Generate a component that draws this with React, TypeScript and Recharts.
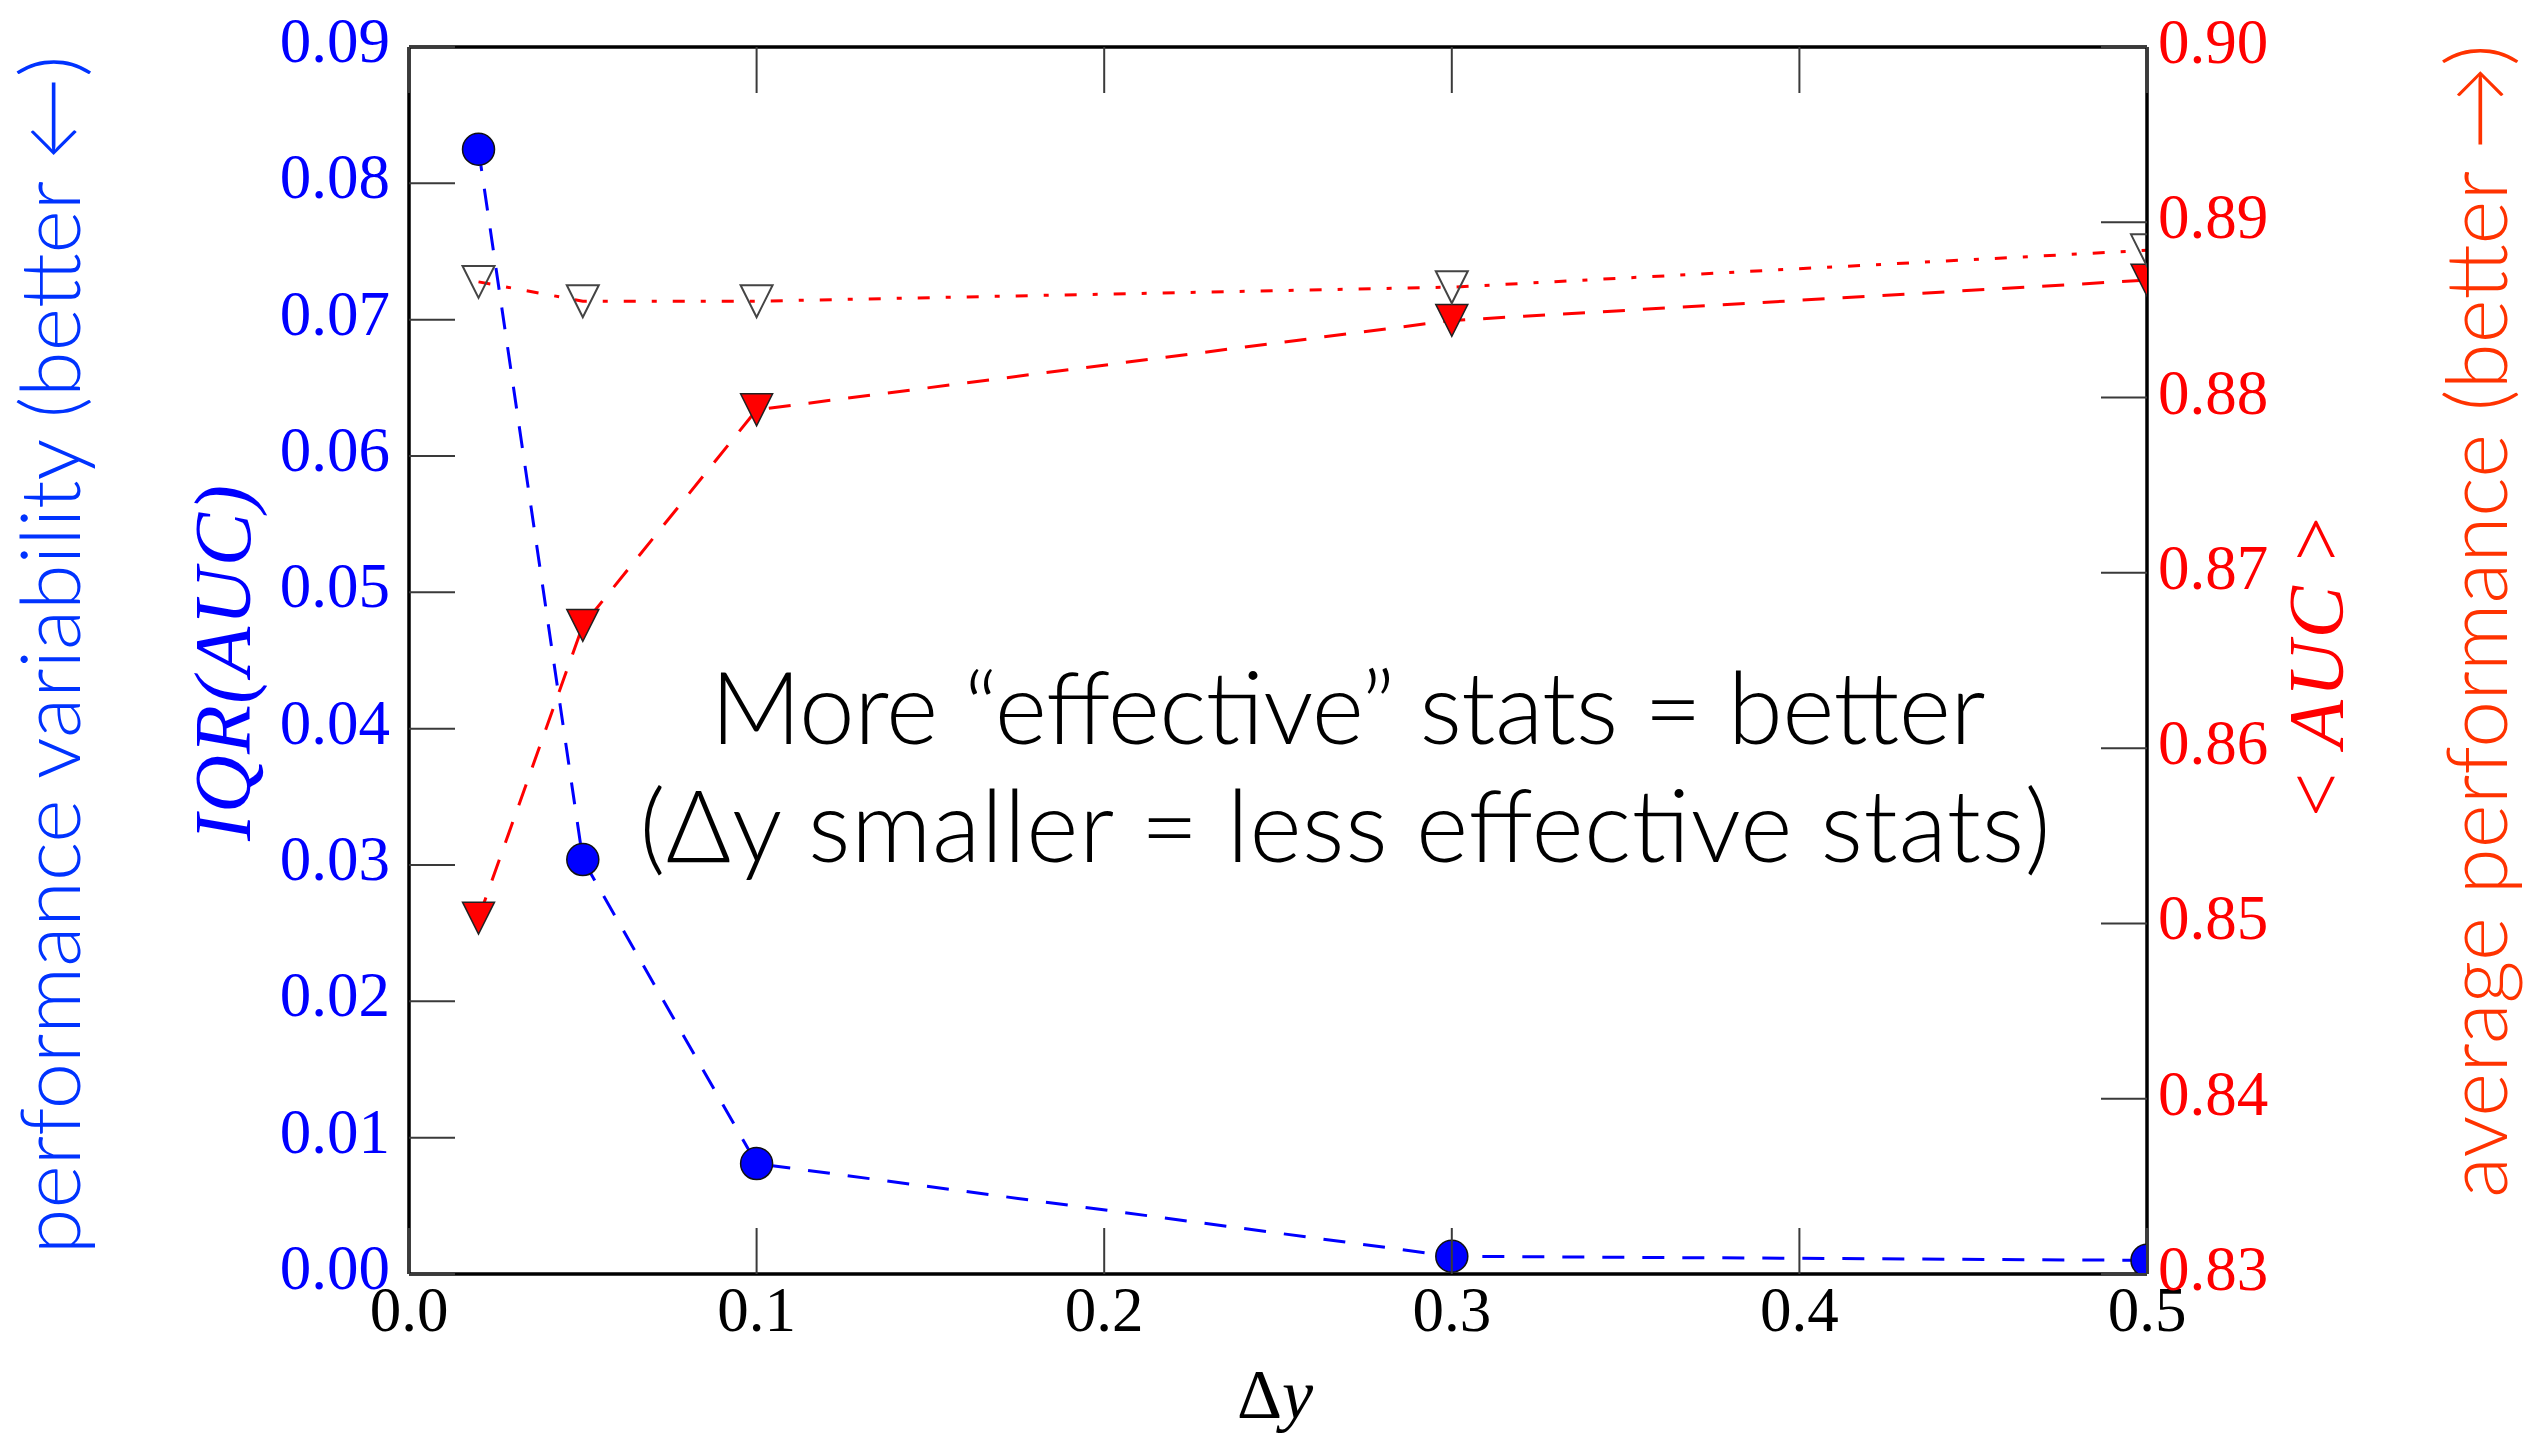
import React from 'react';
import { LineChart, Line, XAxis, YAxis } from 'recharts';

// values
const deltaY = [0.02, 0.05, 0.1, 0.3, 0.5];
const iqrAuc = [0.0825, 0.0304, 0.0081, 0.0013, 0.001];
const meanAuc = [0.8503, 0.867, 0.8793, 0.8844, 0.8867];
const refAuc = [0.8866, 0.8855, 0.8855, 0.8863, 0.8884];

const xTicks = [0, 0.1, 0.2, 0.3, 0.4, 0.5];
const leftTicks = [0, 0.01, 0.02, 0.03, 0.04, 0.05, 0.06, 0.07, 0.08, 0.09];
const rightTicks = [0.83, 0.84, 0.85, 0.86, 0.87, 0.88, 0.89, 0.9];

const chartData = deltaY.map((x, i) => ({
  x,
  iqr: iqrAuc[i],
  mean: meanAuc[i],
  ref: refAuc[i],
}));

const W = 2536;
const H = 1435;
const TICK_LEN = 46;
const TICK_COLOR = '#3a3a3a';
const BLUE = '#0000ff';
const RED = '#ff0000';
const SERIF = "'Liberation Serif', 'DejaVu Serif', serif";
const SANS = "Lato, 'Open Sans', 'Liberation Sans', sans-serif";

// matplotlib-style inward ticks, drawn together with their labels
const LeftTick = ({ x, y, payload }: any) => (
  <g>
    <line x1={x} y1={y} x2={x + TICK_LEN} y2={y} stroke={TICK_COLOR} strokeWidth={2} />
    <text x={x - 19} y={y + 15} textAnchor="end" fill={BLUE} fontFamily={SERIF} fontSize={63}>
      {Number(payload.value).toFixed(2)}
    </text>
  </g>
);

const RightTick = ({ x, y, payload }: any) => (
  <g>
    <line x1={x} y1={y} x2={x - TICK_LEN} y2={y} stroke={TICK_COLOR} strokeWidth={2} />
    <text x={x + 11} y={y + 16} textAnchor="start" fill={RED} fontFamily={SERIF} fontSize={63}>
      {Number(payload.value).toFixed(2)}
    </text>
  </g>
);

const BottomTick = ({ x, y, payload }: any) => (
  <g>
    <line x1={x} y1={y} x2={x} y2={y - TICK_LEN} stroke={TICK_COLOR} strokeWidth={2} />
    <text x={x} y={y + 57} textAnchor="middle" fill="#000" fontFamily={SERIF} fontSize={63}>
      {Number(payload.value).toFixed(1)}
    </text>
  </g>
);

const TopTick = ({ x, y }: any) => (
  <line x1={x} y1={y} x2={x} y2={y + TICK_LEN} stroke={TICK_COLOR} strokeWidth={2} />
);

// markers
const CircleDot = ({ cx, cy, index }: any) => (
  <circle key={`c-${index}`} cx={cx} cy={cy} r={16} fill={BLUE} stroke="#111" strokeWidth={1.5} />
);

const FilledTri = ({ cx, cy, index }: any) => (
  <polygon
    key={`f-${index}`}
    points={`${cx - 16},${cy - 16} ${cx + 16},${cy - 16} ${cx},${cy + 16}`}
    fill={RED}
    stroke="#222"
    strokeWidth={1.5}
  />
);

const OpenTri = ({ cx, cy, index }: any) => (
  <polygon
    key={`o-${index}`}
    points={`${cx - 16},${cy - 16} ${cx + 16},${cy - 16} ${cx},${cy + 16}`}
    fill="none"
    stroke="#444"
    strokeWidth={2}
  />
);

export default function App() {
  return (
    <div style={{ position: 'absolute', left: 0, top: 0, width: W, height: H, background: '#fff' }}>
      <LineChart
        width={W}
        height={H}
        data={chartData}
        margin={{ top: 46, right: 239, bottom: 101, left: 259 }}
      >
        <XAxis
          dataKey="x"
          type="number"
          domain={[0, 0.5]}
          ticks={xTicks}
          interval={0}
          allowDataOverflow
          height={60}
          tickSize={0}
          tickMargin={0}
          tickLine={false}
          axisLine={{ stroke: '#000', strokeWidth: 3.5 }}
          tick={<BottomTick />}
        />
        <XAxis
          xAxisId="top"
          orientation="top"
          dataKey="x"
          type="number"
          domain={[0, 0.5]}
          ticks={xTicks}
          interval={0}
          height={1}
          tickSize={0}
          tickMargin={0}
          tickLine={false}
          axisLine={{ stroke: '#000', strokeWidth: 3.5 }}
          tick={<TopTick />}
        />
        <YAxis
          yAxisId="left"
          orientation="left"
          type="number"
          domain={[0, 0.09]}
          ticks={leftTicks}
          interval={0}
          allowDataOverflow
          width={150}
          tickSize={0}
          tickMargin={0}
          tickLine={false}
          axisLine={{ stroke: '#000', strokeWidth: 3.5 }}
          tick={<LeftTick />}
        />
        <YAxis
          yAxisId="right"
          orientation="right"
          type="number"
          domain={[0.83, 0.9]}
          ticks={rightTicks}
          interval={0}
          allowDataOverflow
          width={150}
          tickSize={0}
          tickMargin={0}
          tickLine={false}
          axisLine={{ stroke: '#000', strokeWidth: 3.5 }}
          tick={<RightTick />}
        />

        <Line
          yAxisId="left"
          type="linear"
          dataKey="iqr"
          stroke={BLUE}
          strokeWidth={3}
          strokeDasharray="22 18"
          dot={CircleDot}
          activeDot={false}
          isAnimationActive={false}
        />
        <Line
          yAxisId="right"
          type="linear"
          dataKey="mean"
          stroke={RED}
          strokeWidth={3}
          strokeDasharray="22 18"
          dot={FilledTri}
          activeDot={false}
          isAnimationActive={false}
        />
        <Line
          yAxisId="right"
          type="linear"
          dataKey="ref"
          stroke={RED}
          strokeWidth={3}
          strokeDasharray="12 16 5 16"
          dot={OpenTri}
          activeDot={false}
          isAnimationActive={false}
        />
      </LineChart>

      {/* free text laid over the chart */}
      <svg
        width={W}
        height={H}
        style={{ position: 'absolute', left: 0, top: 0, pointerEvents: 'none' }}
      >
        <text
          transform="translate(80,655) rotate(-90)"
          textAnchor="middle"
          fill="#0033ff"
          fontFamily={SANS}
          fontWeight={300}
          fontSize={83}
        >
          performance variability (better ←)
        </text>
        <text
          transform="translate(2507,621) rotate(-90)"
          textAnchor="middle"
          fill="#ff3300"
          fontFamily={SANS}
          fontWeight={300}
          fontSize={84}
        >
          average performance (better →)
        </text>
        <text
          transform="translate(250,663) rotate(-90)"
          textAnchor="middle"
          fill={BLUE}
          fontFamily={SERIF}
          fontStyle="italic"
          fontSize={80}
          textLength={356}
          lengthAdjust="spacing"
        >
          IQR(AUC)
        </text>
        <text
          transform="translate(2342,667) rotate(-90)"
          textAnchor="middle"
          fill={RED}
          fontFamily={SERIF}
          fontSize={78}
          textLength={300}
          lengthAdjust="spacing"
        >
          {'< '}
          <tspan fontStyle="italic">AUC</tspan>
          {' >'}
        </text>
        <text x={1275} y={1418} textAnchor="middle" fill="#000" fontFamily={SERIF} fontSize={70}>
          Δ<tspan fontStyle="italic">y</tspan>
        </text>
        <text
          x={1348}
          y={744}
          textAnchor="middle"
          fill="#000"
          fontFamily={SANS}
          fontWeight={300}
          fontSize={100}
          textLength={1275}
          lengthAdjust="spacing"
        >
          More “effective” stats = better
        </text>
        <text
          x={1345}
          y={862}
          textAnchor="middle"
          fill="#000"
          fontFamily={SANS}
          fontWeight={300}
          fontSize={100}
          textLength={1411}
          lengthAdjust="spacing"
        >
          (Δy smaller = less effective stats)
        </text>
      </svg>
    </div>
  );
}
